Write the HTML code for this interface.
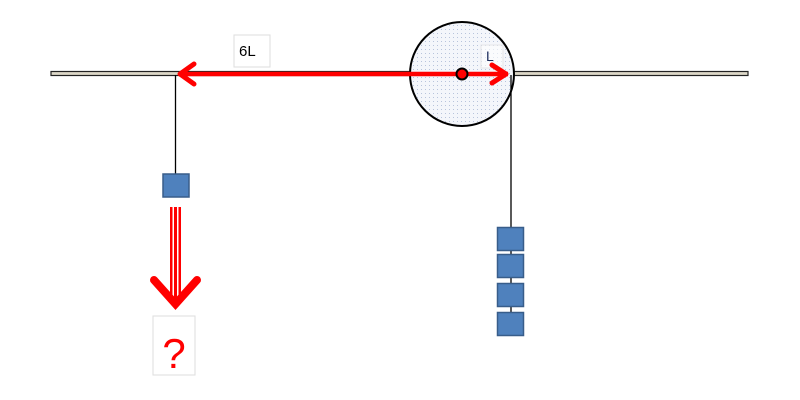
<!DOCTYPE html>
<html><head><meta charset="utf-8"><style>
html,body{margin:0;padding:0;background:#fff;width:800px;height:400px;overflow:hidden}
svg{display:block}
text{font-family:"Liberation Sans",sans-serif}
</style></head><body>
<svg width="800" height="400" viewBox="0 0 800 400" xmlns="http://www.w3.org/2000/svg">
<defs>
<pattern id="dots" width="4" height="4" patternUnits="userSpaceOnUse">
<rect width="4" height="4" fill="#f4f6fb"/><rect x="1" y="1" width="1" height="1" fill="#b8c4dc"/>
</pattern>
</defs>
<rect x="51" y="71.5" width="697" height="4" fill="#ddd8c8" stroke="#222" stroke-width="1.2"/>
<circle cx="462" cy="74" r="52" fill="url(#dots)" stroke="#000" stroke-width="2"/>
<line x1="175.5" y1="75" x2="175.5" y2="174" stroke="#000" stroke-width="1.3"/>
<line x1="511" y1="75" x2="511" y2="328" stroke="#000" stroke-width="1.3"/>
<rect x="163" y="174" width="26" height="23" fill="#4f81bd" stroke="#385d8a" stroke-width="1.5"/>
<rect x="497.5" y="227.5" width="26" height="23" fill="#4f81bd" stroke="#385d8a" stroke-width="1.5"/>
<rect x="497.5" y="254.5" width="26" height="23" fill="#4f81bd" stroke="#385d8a" stroke-width="1.5"/>
<rect x="497.5" y="283.5" width="26" height="23" fill="#4f81bd" stroke="#385d8a" stroke-width="1.5"/>
<rect x="497.5" y="312.5" width="26" height="23" fill="#4f81bd" stroke="#385d8a" stroke-width="1.5"/>
<rect x="234" y="35" width="36" height="32" fill="#fff" stroke="#ddd" stroke-width="1"/>
<text x="239" y="56" font-size="15" fill="#000">6L</text>
<rect x="481" y="45" width="22" height="23" fill="#fff" stroke="#ddd" stroke-width="1" opacity="0.6"/>
<text x="486" y="61" font-size="14" fill="#1a2a5a">L</text>
<line x1="180" y1="74" x2="508" y2="74" stroke="#ff0000" stroke-width="4.5"/>
<polyline points="194,64 180,74 194,84" fill="none" stroke="#ff0000" stroke-width="5" stroke-linecap="round" stroke-linejoin="round"/>
<polyline points="492,65 506,74 492,83" fill="none" stroke="#ff0000" stroke-width="5" stroke-linecap="round" stroke-linejoin="round"/>
<circle cx="462" cy="74" r="5.5" fill="#ff0000" stroke="#000" stroke-width="2"/>
<rect x="170" y="207" width="11" height="95" fill="#ff0000"/>
<rect x="172.5" y="207" width="1.5" height="95" fill="#fff"/>
<rect x="177" y="207" width="1.5" height="95" fill="#fff"/>
<polyline points="154,280 175.5,304 197,280" fill="none" stroke="#ff0000" stroke-width="8" stroke-linecap="round" stroke-linejoin="miter"/>
<rect x="153" y="316" width="42" height="59" fill="#fff" stroke="#ddd" stroke-width="1"/>
<text x="174" y="368" font-size="42" fill="#ff0000" text-anchor="middle">?</text>
</svg>
</body></html>
